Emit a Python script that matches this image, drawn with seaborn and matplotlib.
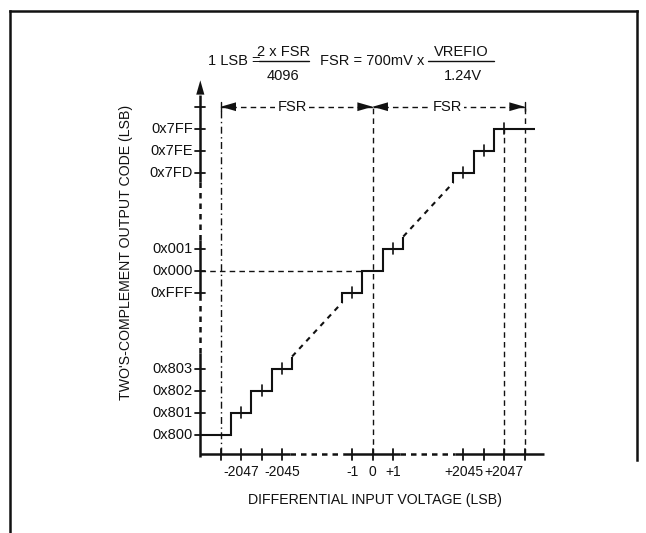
import numpy as np
import pandas as pd
import matplotlib
matplotlib.use("Agg")
import matplotlib.pyplot as plt
import seaborn as sns
from matplotlib.patches import Polygon
from matplotlib.lines import Line2D

# ---------------- data ----------------
x_tick_values = [-2048, -2047, -2046, -2045, -1, 0, 1, 2045, 2046, 2047, 2048]
x_tick_labels = ["", "-2047", "", "-2045", "-1", "0", "+1", "+2045", "", "+2047", ""]
y_code_values = [-2048, -2047, -2046, -2045, -1, 0, 1, 2045, 2046, 2047]
y_code_labels = ["0x800", "0x801", "0x802", "0x803", "0xFFF", "0x000", "0x001",
                 "0x7FD", "0x7FE", "0x7FF"]
step_group_low = [-2048, -2047, -2046, -2045]
step_group_mid = [-1, 0, 1]
step_group_high = [2045, 2046, 2047]
ticked_codes = [-2047, -2046, -2045, -1, 1, 2045, 2046, 2047]
axis_min = -2049
fsr_level = 2048
x_label = "DIFFERENTIAL INPUT VOLTAGE (LSB)"
y_label = "TWO'S-COMPLEMENT OUTPUT CODE (LSB)"

# ---------------- style ----------------
sns.set_theme(style="white")
plt.rcParams["font.family"] = ["Liberation Sans", "DejaVu Sans"]

W, H = 646, 533
fig = plt.figure(figsize=(W / 100, H / 100), dpi=100)
ax = fig.add_axes([0, 0, 1, 1])
ax.set_xlim(-18.27, 13.40)
ax.set_ylim(-11.92, 12.30)
ax.axis("off")

GAP = 2040.55


def m(v):
    """broken-axis mapping (value -> drawing position)"""
    v = np.asarray(v, dtype=float)
    return np.where(v < -1000, v + GAP, np.where(v > 1000, v - GAP, v))


BLACK = "#111111"
LW_STEP = 1.5
LW_AXIS = 1.8
LW_REF = 1.0
FS_TICK = 10.5
FS_XTICK = 10.0
FS_LABEL = 10.2
FS_FORM = 10.5


def seg(x, y, lw=LW_REF, dashes=None):
    df = pd.DataFrame({"x": m(x), "y": m(y)})
    sns.lineplot(data=df, x="x", y="y", sort=False, estimator=None,
                 color=BLACK, lw=lw, ax=ax)
    l = ax.lines[-1]
    if dashes is not None:
        l.set_dashes(dashes)
    l.set_solid_capstyle("butt")
    l.set_dash_capstyle("butt")
    return l


def stair(codes, start=None, end=None, pre=None, post=None):
    xs, ys = [], []
    if pre is not None:
        xs.append(codes[0] - 0.5)
        ys.append(codes[0] - pre)
        xs.append(codes[0] - 0.5)
    else:
        xs.append(start)
    ys.append(codes[0])
    for i, c in enumerate(codes):
        last = i == len(codes) - 1
        xs.append(end if (last and end is not None) else c + 0.5)
        ys.append(c)
        if not last:
            xs.append(c + 0.5)
            ys.append(codes[i + 1])
    if post is not None:
        xs.append(codes[-1] + 0.5)
        ys.append(codes[-1] + post)
    return xs, ys


PRE, POST = 0.45, 0.55
lx, ly = stair(step_group_low, start=axis_min, post=POST)
mx, my = stair(step_group_mid, pre=PRE, post=POST)
hx, hy = stair(step_group_high, pre=PRE, end=fsr_level + 0.5)
for xs, ys in [(lx, ly), (mx, my), (hx, hy)]:
    l = seg(xs, ys, lw=LW_STEP)
    l.set_solid_joinstyle("miter")

# dashed diagonals between step groups
seg([lx[-1], mx[0]], [ly[-1], my[0]], lw=LW_STEP, dashes=(2.5, 2.5))
seg([mx[-1], hx[0]], [my[-1], hy[0]], lw=LW_STEP, dashes=(2.5, 2.5))

# small tick marks on code centers
for c in ticked_codes:
    p = float(m(c))
    ax.plot([p, p], [p - 0.25, p + 0.25], color=BLACK, lw=1.2)

# ---------------- axes ----------------
ybreaks = [axis_min, -2044.3, -1.35, 1.4, 2044.6, 2048.55]
for i in range(len(ybreaks) - 1):
    dashed = i % 2 == 1
    seg([axis_min, axis_min], [ybreaks[i], ybreaks[i + 1]], lw=LW_AXIS,
        dashes=(2.2, 2.0) if dashed else None)
ya = float(m(axis_min))
tip = float(m(2049.2))
base = float(m(2048.55))
ax.add_patch(Polygon([[ya - 0.2, base], [ya + 0.2, base], [ya, tip]],
                     closed=True, color=BLACK, lw=0))

xbreaks = [axis_min, -2044.6, -1.46, 1.34, 2044.58, 2048.95]
xa = float(m(-2048.9))
for i in range(len(xbreaks) - 1):
    dashed = i % 2 == 1
    seg([xbreaks[i], xbreaks[i + 1]], [-2048.9, -2048.9], lw=LW_AXIS,
        dashes=(2.2, 2.0) if dashed else None)

# axis ticks and tick labels
for v in y_code_values + [fsr_level]:
    p = float(m(v))
    ax.plot([ya - 0.25, ya + 0.25], [p, p], color=BLACK, lw=1.3)
for v, lab in zip(y_code_values, y_code_labels):
    ax.text(ya - 0.36, float(m(v)), lab, ha="right", va="center",
            fontsize=FS_TICK, color=BLACK)
for v, lab in zip(x_tick_values, x_tick_labels):
    p = float(m(v))
    ax.plot([p, p], [xa - 0.25, xa + 0.25], color=BLACK, lw=1.3)
    if lab:
        ax.text(p, xa - 0.8, lab, ha="center", va="center", fontsize=FS_XTICK,
                color=BLACK)

ax.text(0.1, -10.43, x_label, ha="center", va="center", fontsize=FS_LABEL,
        color=BLACK)
ax.text(-12.09, 0.85, y_label, ha="center", va="center", rotation=90,
        fontsize=FS_LABEL, color=BLACK)

# ---------------- reference lines ----------------
seg([-2048, -2048], [-2048.9, fsr_level], lw=LW_REF, dashes=(5, 2.5, 1, 2.5))
seg([2048, 2048], [-2048.9, fsr_level], lw=LW_REF, dashes=(4, 3))
seg([0, 0], [-2048.9, fsr_level], lw=LW_REF, dashes=(4, 3))
seg([2047, 2047], [-2048.9, 2047], lw=LW_REF, dashes=(4, 3))
seg([axis_min, -0.5], [0, 0], lw=LW_REF, dashes=(4, 3))

# ---------------- FSR arrows ----------------
fy = float(m(fsr_level))
AL, AH = 0.75, 0.2
left, mid, right = float(m(-2048)), 0.0, float(m(2048))
seg([-2048, 0], [fsr_level, fsr_level], lw=LW_REF, dashes=(4, 3))
seg([0, 2048], [fsr_level, fsr_level], lw=LW_REF, dashes=(4, 3))
for t, d in [(left, 1), (mid, -1), (mid, 1), (right, -1)]:
    ax.add_patch(Polygon([[t, fy], [t + d * AL, fy + AH], [t + d * AL, fy - AH]],
                         closed=True, color=BLACK, lw=0, zorder=5))
for t in (left, right):
    ax.plot([t, t], [fy - 0.2, fy + 0.2], color=BLACK, lw=1.0)
for cx in (-3.95, 3.65):
    ax.text(cx, fy, "FSR", ha="center", va="center", fontsize=FS_TICK,
            color=BLACK, zorder=6,
            bbox=dict(boxstyle="square,pad=0.15", fc="white", ec="none"))


# ---------------- formulas ----------------
def ft(px, py, s, size, ha="center"):
    fig.text(px / W, 1 - py / H, s, ha=ha, va="center", fontsize=size,
             color=BLACK)


def fbar(x0, x1, py):
    fig.add_artist(Line2D([x0 / W, x1 / W], [1 - py / H, 1 - py / H],
                          color=BLACK, lw=1.0))


ft(208, 61, "1 LSB =", FS_FORM, ha="left")
ft(284, 52, "2 x FSR", FS_FORM)
fbar(259, 309, 61)
ft(283, 76, "4096", FS_FORM)
ft(424, 61, "FSR = 700mV x", FS_FORM, ha="right")
ft(461, 52, "VREFIO", FS_FORM)
fbar(428, 494, 61)
ft(463, 76, "1.24V", FS_FORM)

# ---------------- frame ----------------
fr = dict(color=BLACK, lw=1.8, solid_capstyle="projecting")
fig.add_artist(Line2D([10 / W, 10 / W], [0, 1 - 10.5 / H], **fr))
fig.add_artist(Line2D([10 / W, 637 / W], [1 - 10.5 / H, 1 - 10.5 / H], **fr))
fig.add_artist(Line2D([637 / W, 637 / W], [1 - 10.5 / H, 1 - 460 / H], **fr))

fig.savefig("out.png", dpi=100)
